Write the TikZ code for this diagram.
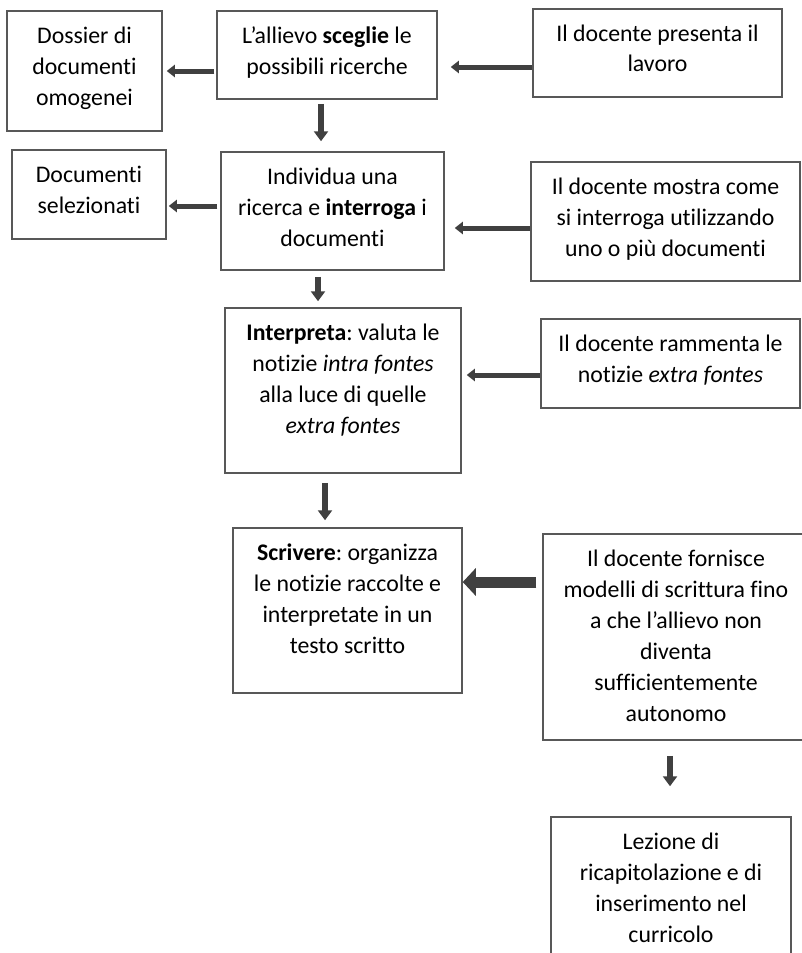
\documentclass[tikz,border=0pt]{standalone}
\usepackage{fontspec}
\setmainfont{Carlito}[Ligatures={TeX,NoCommon}]
\usepackage{tikz}
\usetikzlibrary{arrows.meta}
\definecolor{flowgray}{RGB}{88,88,88}
\definecolor{arrowdark}{RGB}{64,64,64}
\newcommand{\boxfont}{\fontsize{23.8}{31}\selectfont\frenchspacing}
\tikzset{
  stepbox/.style 2 args={
    rectangle, draw=flowgray, line width=1.5pt, fill=white, inner sep=0pt,
    execute at begin node={\begin{minipage}[c][#2][t]{#1}\centering\boxfont\rule{0pt}{32pt}},
    execute at end node={\end{minipage}}
  },
  sidearrow/.style={draw=arrowdark, line width=5pt, -{Triangle[length=8pt, width=12pt]}},
  bigarrow/.style={draw=arrowdark, line width=11pt, -{Triangle[length=13pt, width=27pt]}},
  downarrow/.style={draw=arrowdark, line width=6pt, -{Triangle[length=10pt, width=14pt]}}
}

\begin{document}
\begin{tikzpicture}[x=1pt, y=-1pt]
\clip (0,0) rectangle (802,953);
\fill[white] (0,0) rectangle (802,953);

% Row 1 (top)
\node[stepbox={155pt}{120pt}] (dossier) at (84.5,71) {Dossier di\\documenti\\omogenei};
\node[stepbox={220pt}{88pt}] (sceglie) at (327,55) {L’allievo \textbf{sceglie} le\\possibili ricerche};
\node[stepbox={249pt}{88pt}] (presenta) at (657.5,53) {Il docente presenta il\\lavoro};
\draw[sidearrow, shorten <=2pt, shorten >=4pt] (sceglie.west |- dossier.east) -- (dossier.east);
\draw[sidearrow, shorten >=13pt] ([yshift=-14pt]presenta.west) -- ([yshift=-14pt]presenta.west -| sceglie.east);

% Row 2
\node[stepbox={154pt}{89pt}] (selezionati) at (89,194.5) {Documenti\\selezionati};
\node[stepbox={223pt}{118pt}] (interroga) at (332.5,211) {Individua una\\ricerca e \textbf{interroga} i\\documenti};
\node[stepbox={269pt}{119pt}] (mostra) at (665.5,221.5) {Il docente mostra come\\si interroga utilizzando\\uno o più documenti};
\draw[downarrow, shorten <=4pt, shorten >=10pt] ([xshift=-6pt]sceglie.south) -- ([xshift=-6pt]sceglie.south |- interroga.north);
\draw[sidearrow, shorten <=3pt, shorten >=2pt] ([yshift=5pt]interroga.west) -- ([yshift=5pt]interroga.west -| selezionati.east);
\draw[sidearrow, shorten >=10pt] ([yshift=-6.5pt]mostra.west) -- ([yshift=-6.5pt]mostra.west -| interroga.east);

% Row 3
\node[stepbox={236pt}{165pt}] (interpreta) at (343,390.5) {\textbf{Interpreta}: valuta le\\notizie \textit{intra fontes}\\alla luce di quelle\\\textit{extra fontes}};
\node[stepbox={259pt}{89pt}] (rammenta) at (670.5,363.5) {Il docente rammenta le\\notizie \textit{extra fontes}};
\draw[downarrow, shorten <=6pt, shorten >=6pt] ([xshift=-14.5pt]interroga.south) -- ([xshift=-14.5pt]interroga.south |- interpreta.north);
\draw[sidearrow, shorten >=5pt] ([yshift=-11.5pt]rammenta.west) -- ([yshift=-11.5pt]rammenta.west -| interpreta.east);

% Row 4
\node[stepbox={229pt}{165pt}] (scrivere) at (347.5,610.5) {\textbf{Scrivere}: organizza\\le notizie raccolte e\\interpretate in un\\testo scritto};
\node[stepbox={266pt}{206pt}] (fornisce) at (676,637) {Il docente fornisce\\modelli di scrittura fino\\a che l’allievo non\\diventa\\sufficientemente\\autonomo};
\draw[downarrow, shorten <=9pt, shorten >=7pt] ([xshift=-18pt]interpreta.south) -- ([xshift=-18pt]interpreta.south |- scrivere.north);
\draw[bigarrow, shorten <=6pt] ([yshift=55pt]fornisce.west) -- ([yshift=55pt]fornisce.west -| scrivere.east);

% Row 5 (bottom, cut by the page)
\node[stepbox={240pt}{148pt}] (lezione) at (671,891) {Lezione di\\ricapitolazione e di\\inserimento nel\\curricolo};
\draw[downarrow, shorten <=15pt, shorten >=30pt] ([xshift=-6pt]fornisce.south) -- ([xshift=-6pt]fornisce.south |- lezione.north);

\end{tikzpicture}
\end{document}
